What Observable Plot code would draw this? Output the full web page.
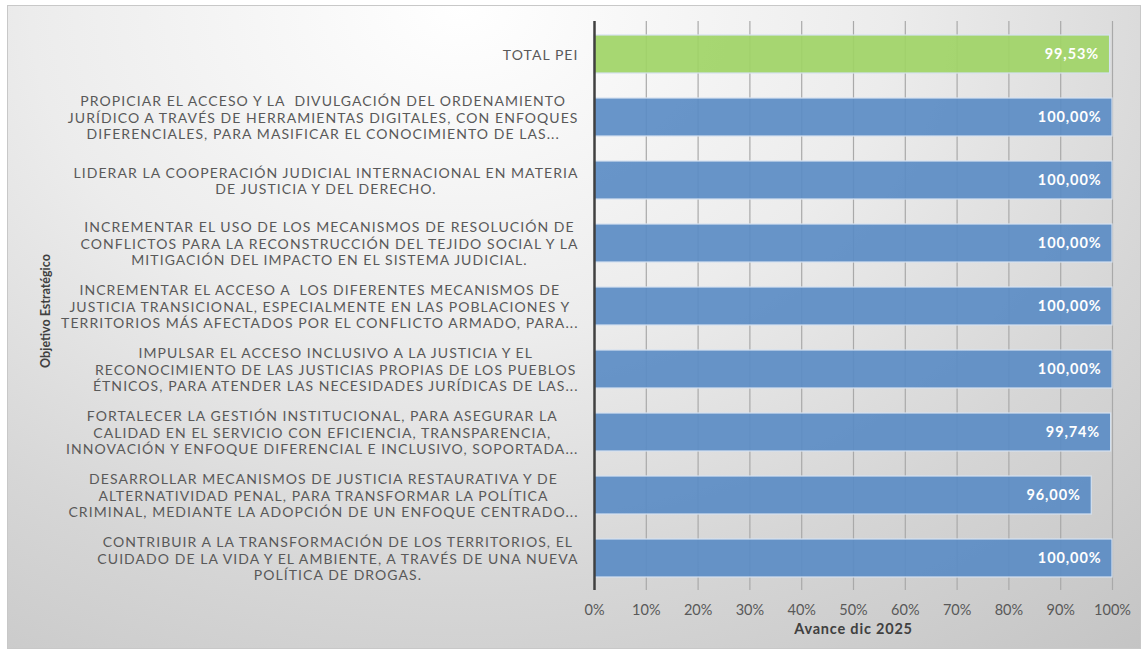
<!DOCTYPE html>
<html>
<head>
<meta charset="utf-8">
<script src="https://cdn.jsdelivr.net/npm/d3@7"></script>
<script src="https://cdn.jsdelivr.net/npm/@observablehq/plot@0.6"></script>
<style>
  html, body { margin: 0; padding: 0; background: #ffffff; }
  #wrap { position: relative; width: 1145px; height: 653px; overflow: hidden; }
  #bg {
    position: absolute; left: 7px; top: 5px; width: 1132px; height: 642px;
    border: 1px solid #c8c8c8;
    background: radial-gradient(ellipse 95% 130% at 40% 0%, #ffffff 0%, #ececec 40%, #d6d6d6 70%, #c4c4c4 100%);
  }
  #chart { position: absolute; left: 0; top: 0; }
</style>
</head>
<body>
<div id="wrap"><div id="bg"></div><div id="chart"></div></div>
<script>
const objetivos = [
  "TOTAL PEI",
  "PROPICIAR EL ACCESO Y LA  DIVULGACIÓN DEL ORDENAMIENTO\nJURÍDICO A TRAVÉS DE HERRAMIENTAS DIGITALES, CON ENFOQUES\nDIFERENCIALES, PARA MASIFICAR EL CONOCIMIENTO DE LAS...",
  "LIDERAR LA COOPERACIÓN JUDICIAL INTERNACIONAL EN MATERIA\nDE JUSTICIA Y DEL DERECHO.",
  "INCREMENTAR EL USO DE LOS MECANISMOS DE RESOLUCIÓN DE\nCONFLICTOS PARA LA RECONSTRUCCIÓN DEL TEJIDO SOCIAL Y LA\nMITIGACIÓN DEL IMPACTO EN EL SISTEMA JUDICIAL.",
  "INCREMENTAR EL ACCESO A  LOS DIFERENTES MECANISMOS DE\nJUSTICIA TRANSICIONAL, ESPECIALMENTE EN LAS POBLACIONES Y\nTERRITORIOS MÁS AFECTADOS POR EL CONFLICTO ARMADO, PARA...",
  "IMPULSAR EL ACCESO INCLUSIVO A LA JUSTICIA Y EL\nRECONOCIMIENTO DE LAS JUSTICIAS PROPIAS DE LOS PUEBLOS\nÉTNICOS, PARA ATENDER LAS NECESIDADES JURÍDICAS DE LAS...",
  "FORTALECER LA GESTIÓN INSTITUCIONAL, PARA ASEGURAR LA\nCALIDAD EN EL SERVICIO CON EFICIENCIA, TRANSPARENCIA,\nINNOVACIÓN Y ENFOQUE DIFERENCIAL E INCLUSIVO, SOPORTADA...",
  "DESARROLLAR MECANISMOS DE JUSTICIA RESTAURATIVA Y DE\nALTERNATIVIDAD PENAL, PARA TRANSFORMAR LA POLÍTICA\nCRIMINAL, MEDIANTE LA ADOPCIÓN DE UN ENFOQUE CENTRADO...",
  "CONTRIBUIR A LA TRANSFORMACIÓN DE LOS TERRITORIOS, EL\nCUIDADO DE LA VIDA Y EL AMBIENTE, A TRAVÉS DE UNA NUEVA\nPOLÍTICA DE DROGAS."
];
const avance = [99.53, 100, 100, 100, 100, 100, 99.74, 96.00, 100];
const tipo = ["total", "obj", "obj", "obj", "obj", "obj", "obj", "obj", "obj"];
const xTicks = [0, 10, 20, 30, 40, 50, 60, 70, 80, 90, 100];
const xTitle = "Avance dic 2025";
const yTitle = "Objetivo Estratégico";

const data = objetivos.map((o, i) => ({objetivo: o, avance: avance[i], tipo: tipo[i]}));

const FONT = "Lato, 'Open Sans', sans-serif";
const labelSize = 14;

// measure text with real SVG rendering
const mSvg = document.createElementNS("http://www.w3.org/2000/svg", "svg");
mSvg.setAttribute("width", 10); mSvg.setAttribute("height", 10);
mSvg.style.position = "absolute"; mSvg.style.left = "-9999px";
document.body.appendChild(mSvg);
const mText = document.createElementNS("http://www.w3.org/2000/svg", "text");
mSvg.appendChild(mText);
function measure(str, size, ls = 0) {
  mText.setAttribute("font-family", FONT);
  mText.setAttribute("font-size", size);
  mText.setAttribute("letter-spacing", ls);
  mText.setAttribute("xml:space", "preserve");
  mText.textContent = str;
  return mText.getComputedTextLength();
}
const refLine = "LIDERAR LA COOPERACIÓN JUDICIAL INTERNACIONAL EN MATERIA";
const letterSp = Math.max(0, (505 - measure(refLine, labelSize)) / refLine.length);

const fmt = v => v.toFixed(2).replace(".", ",") + "%";

const labelMarks = data.map(d => {
  const lines = d.objetivo.split("\n");
  const maxW = Math.max(...lines.map(l => measure(l, labelSize, letterSp)));
  return Plot.text([d], {
    x: () => 0, y: "objetivo", text: "objetivo",
    textAnchor: "middle", lineAnchor: "middle",
    dx: -(16 + maxW / 2), lineHeight: 16.3 / labelSize,
    fontSize: labelSize, fill: "#595959", fontFamily: FONT
  });
});

const chart = Plot.plot({
  width: 1145,
  height: 653,
  marginLeft: 594,
  marginRight: 33,
  marginTop: 21,
  marginBottom: 63,
  style: {background: "transparent", fontFamily: FONT},
  x: {domain: [0, 100], ticks: xTicks, tickFormat: d => d + "%", label: null},
  y: {domain: objetivos, paddingInner: 0.4, paddingOuter: 0.2, axis: null},
  color: {domain: ["total", "obj"], range: ["#9fd466", "#5b8cc4"]},
  marks: [
    Plot.ruleX(xTicks.filter(t => t > 0), {stroke: "#a9a9a9", strokeWidth: 1.2}),
    Plot.barX(data, {x: "avance", y: "objetivo", fill: "tipo", fillOpacity: 0.92, stroke: "#d6e2f0", strokeWidth: 1.2}),
    Plot.text(data, {x: "avance", y: "objetivo", text: d => fmt(d.avance), textAnchor: "end", dx: -11,
      fill: "#ffffff", fontWeight: "bold", fontSize: 14.5, fontFamily: FONT}),
    Plot.ruleX([0], {stroke: "#404040", strokeWidth: 2.5}),
    Plot.axisX({ticks: xTicks, tickFormat: d => d + "%", tickSize: 0, tickPadding: 14,
      fontSize: 14.5, fill: "#595959", label: null}),
    Plot.text([xTitle], {frameAnchor: "bottom", dy: 43, text: d => d, fontWeight: "bold",
      fontSize: 14.5, fill: "#404040", fontFamily: FONT}),
    ...labelMarks
  ]
});

const svg = d3.select(chart);
const labelSet = new Set(objetivos.map(o => o.replace(/\n/g, "")));
const valueSet = new Set(avance.map(fmt));
svg.selectAll("text").each(function () {
  const t = this.textContent;
  if (labelSet.has(t)) this.setAttribute("letter-spacing", letterSp);
  else if (valueSet.has(t)) this.setAttribute("letter-spacing", 0.9);
  else if (t === xTitle) this.setAttribute("letter-spacing", 0.8);
});
svg.append("text")
  .attr("transform", "translate(47,311) rotate(-90)")
  .attr("text-anchor", "middle")
  .attr("dominant-baseline", "middle")
  .attr("font-family", FONT)
  .attr("font-weight", "bold")
  .attr("font-size", 12.5)
  .attr("fill", "#404040")
  .text(yTitle);

document.getElementById("chart").appendChild(chart);
mSvg.remove();
</script>
</body>
</html>
